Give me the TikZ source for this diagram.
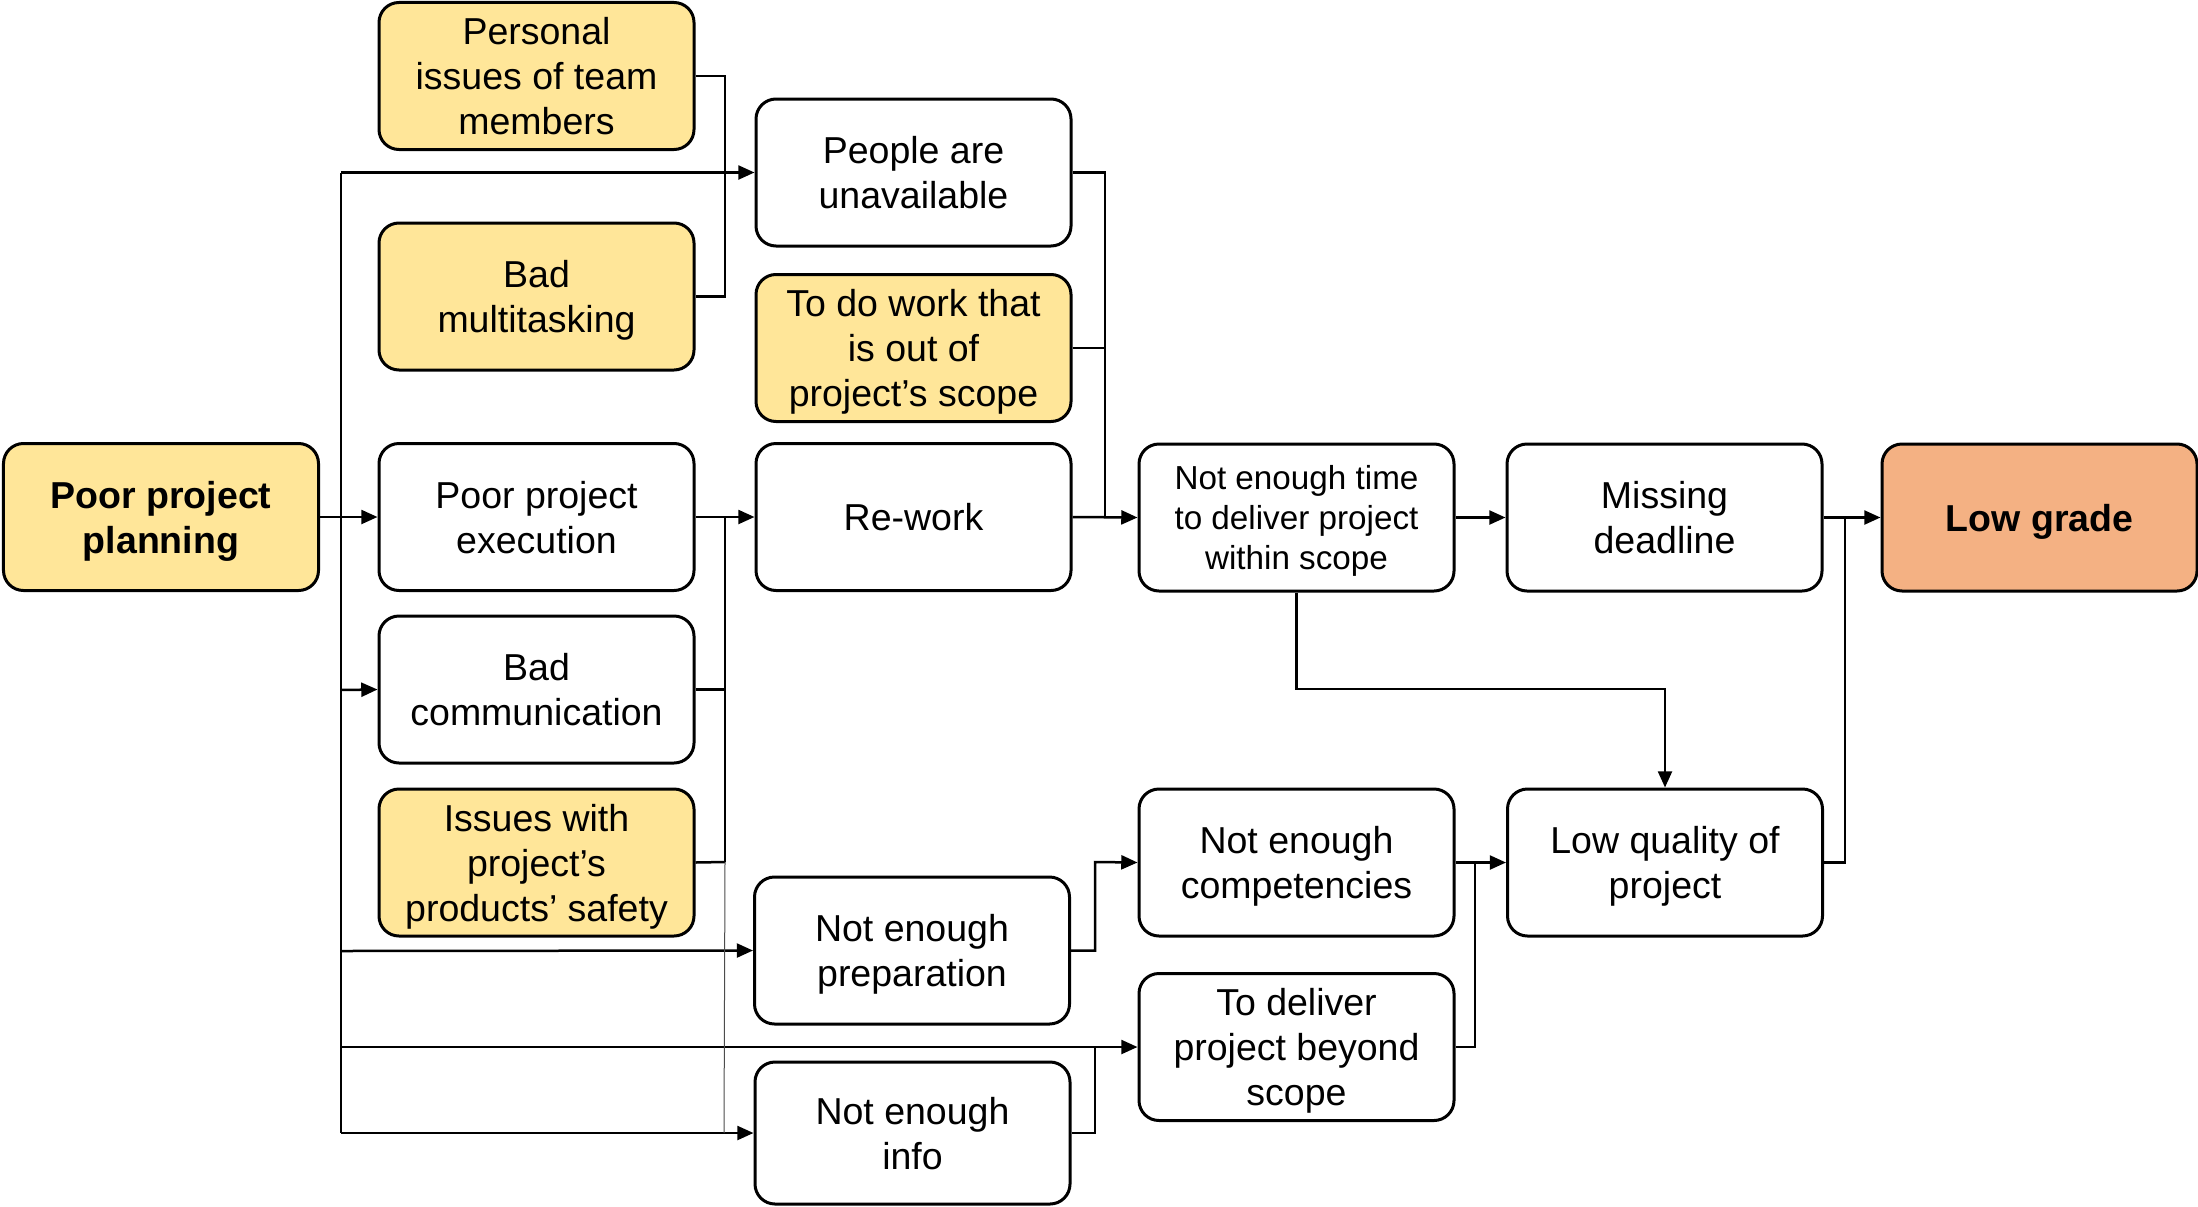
\documentclass[tikz,border=0pt]{standalone}
\usepackage{fontspec}
\setmainfont{Liberation Sans}
\usetikzlibrary{arrows.meta}
\definecolor{ylw}{HTML}{FFE699}
\definecolor{org}{HTML}{F4B183}
\tikzset{
  box/.style={draw=black, line width=1.2pt, rounded corners=8pt, minimum width=126pt, minimum height=58.8pt, inner sep=2pt, align=center, font=\fontsize{15}{18}\selectfont, text depth=-1pt},
  smallbox/.style={box, font=\fontsize{13.3}{16}\selectfont, text depth=0pt},
  ybox/.style={box, fill=ylw},
  conn/.style={line width=1pt, -{Triangle[length=6.5pt,width=5.6pt]}},
  line/.style={line width=1pt},
  thin/.style={line width=0.4pt, black!70}
}
\begin{document}
\begin{tikzpicture}[x=0.4pt, y=-0.4pt]
\useasboundingbox (0,0) rectangle (2198,1206);
% nodes
\node[ybox, font=\fontsize{15}{18}\selectfont\bfseries] (plan) at (161,517) {Poor project\\planning};
\node[ybox] (personal) at (536.5,76) {Personal\\issues of team\\members};
\node[ybox] (multi) at (536.5,296.5) {Bad\\multitasking};
\node[box] (exec) at (536.5,517) {Poor project\\execution};
\node[box] (comm) at (536.5,689.5) {Bad\\communication};
\node[ybox] (safety) at (536.5,862.5) {Issues with\\project’s\\products’ safety};
\node[box] (people) at (913.5,172.5) {People are\\unavailable};
\node[ybox] (todo) at (913.5,348) {To do work that\\is out of\\project’s scope};
\node[box] (rework) at (913.5,517) {Re-work};
\node[box] (prep) at (912,950.5) {Not enough\\preparation};
\node[box, minimum height=56.8pt] (info) at (912.5,1133) {Not enough\\info};
\node[smallbox] (time) at (1296.5,517.5) {Not enough time\\to deliver project\\within scope};
\node[box] (missing) at (1664.5,517.5) {Missing\\deadline};
\node[box, fill=org, font=\fontsize{15}{18}\selectfont\bfseries] (grade) at (2039.5,517.5) {Low grade};
\node[box] (comp) at (1296.5,862.5) {Not enough\\competencies};
\node[box] (beyond) at (1296.5,1047) {To deliver\\project beyond\\scope};
\node[box] (quality) at (1665,862.5) {Low quality of\\project};
% junction coordinates
\coordinate (tTop) at (341,172.5);
\coordinate (tComm) at (341,690);
\coordinate (tPrep) at (341,951);
\coordinate (tBey) at (341,1047);
\coordinate (tInfo) at (341,1133);
\coordinate (jA) at (725,517);
\coordinate (jB) at (725,862);
\coordinate (jC) at (1105,517);
\coordinate (jD) at (1095,862);
\coordinate (jE) at (1095,1047);
\coordinate (jF) at (1475,862);
\coordinate (jG) at (1845,517);
% left bracket personal/multitasking
\draw[line] (personal.east) -| (725,296.5) -- (multi.east);
% trunk from planning
\draw[line] (tTop) -- (tInfo);
\draw[conn] (plan.east) -- (exec.west);
\draw[conn] (tTop) -- (people.west);
\draw[conn] (tComm) -- (comm.west);
\draw[conn] (tPrep) -- (prep.west);
\draw[conn] (tBey) -- (beyond.west);
\draw[conn] (tInfo) -- (info.west);
% execution group to rework
\draw[conn] (exec.east) -- (rework.west);
\draw[line] (jA) -- (jB);
\draw[line] (comm.east) -- (725,689.5);
\draw[line] (safety.east) -- (jB);
\draw[thin] (jB) -- (724,1133);
% to not enough time
\draw[line] (people.east) -| (jC);
\draw[line] (todo.east) -- (1105,348);
\draw[conn] (rework.east) -- (time.west);
\draw[conn] (time.east) -- (missing.west);
\draw[conn] (missing.east) -- (grade.west);
\draw[line] (quality.east) -| (jG);
\draw[conn] (time.south) |- (1665,689) -- (quality.north);
% competencies / beyond scope
\draw[conn] (prep.east) -| (jD) -- (comp.west);
\draw[line] (info.east) -| (jE);
\draw[conn] (comp.east) -- (quality.west);
\draw[line] (beyond.east) -| (jF);
\end{tikzpicture}
\end{document}
